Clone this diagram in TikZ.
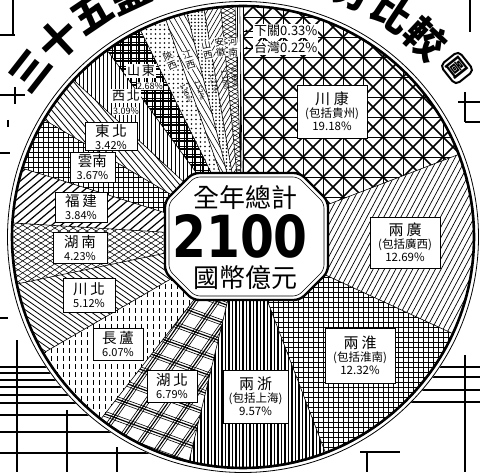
\documentclass[tikz,border=0pt]{standalone}
\usepackage{fontspec}
\newfontfamily\cjk{Noto Sans CJK TC}
\newfontfamily\dvs{DejaVu Sans}
\newcommand\HL[5][]{%
 \begin{scope}[rotate=#2]
 \pgfmathtruncatemacro\hlN{260/#3+1}%
 \pgfmathtruncatemacro\hlM{-260/#3-1}%
 \foreach \k in {\hlM,...,\hlN}{\draw[line width=#4pt,#1] (-260,{\k*#3+#5}) -- (260,{\k*#3+#5});}
 \end{scope}}
\newcommand\DT[6]{%
 \pgfmathtruncatemacro\dtX{(#4-#3)/#1}%
 \pgfmathtruncatemacro\dtY{(#6-#5)/#1}%
 \foreach \i in {0,...,\dtX}{\foreach \j in {0,...,\dtY}{\fill ({#3+\i*#1},{#5+\j*#1}) circle[radius=#2pt];}}}
\newcommand\SL[3]{\begin{scope}\clip (0,0) -- (#1:232pt) arc[start angle=#1,end angle=#2,radius=232pt] -- cycle; #3 \end{scope}}
\newcommand\TL[3]{{\fontsize{15}{17}\selectfont #1}\\{\fontsize{11.5}{14}\selectfont #2}\\{\fontsize{11.5}{13}\selectfont #3}}
\newcommand\DL[2]{{\fontsize{14.5}{16}\selectfont #1}\\{\fontsize{11}{12}\selectfont #2}}
\tikzset{
 lbox/.style={draw, line width=0.9pt, fill=white, align=center, inner sep=1.5pt, font=\cjk\fontsize{11}{13}\selectfont},
 vlab/.style={inner sep=0.3pt, fill=white, align=center, font=\cjk\fontsize{9.5}{10.5}\selectfont},
 vnum/.style={inner sep=0pt, font=\cjk\fontsize{6.8}{7}\selectfont},
 ttl/.style={inner sep=0pt, font=\cjk\bfseries\fontsize{40}{40}\selectfont},
 bg/.style={line width=1.3pt},
}
\begin{document}
\begin{tikzpicture}[x=1pt,y=1pt]
\clip (0,0) rectangle (480,472);
\useasboundingbox (0,0) rectangle (480,472);
\fill[white] (0,0) rectangle (480,472);
% background fragments
\begin{scope}[bg]
 \draw (13,472) -- (13,437); \draw (0,437) -- (15,437);
 \draw (0,377) -- (25,377); \draw (15,385) -- (15,368);
 \draw (8,352) -- (8,345); \draw (0,319) -- (10,319);
 \draw (0,154) -- (8,154);
 \draw (17,132) -- (17,0); \draw (67,62) -- (67,0); \draw (117,25) -- (117,0);
 \foreach \yy in {105,99,92,85,77,69,57,40,19}{\draw (0,\yy) -- (160,\yy);}
 \draw (470,472) -- (470,440);
 \draw (458,370) -- (480,370); \draw (465,380) -- (465,350); \draw (465,350) -- (480,350);
 \draw (465,117) -- (465,0);
 \foreach \yy in {105,95,82,70}{\draw (400,\yy) -- (480,\yy);}
 \draw (367,19) -- (367,0); \draw (360,20) -- (400,20);
\end{scope}
\fill[white] (243,235) circle[radius=236pt];
\begin{scope}[shift={(243,235)}]
 % 川康
 \SL{90}{20.952}{\HL{45}{14.14}{1.5}{0}\HL{-45}{14.14}{1.5}{0}\HL{0}{20}{0.5}{0}\HL{90}{20}{0.5}{0}}
 % 兩廣
 \SL{20.952}{-24.732}{\HL{62}{5}{0.7}{0}}
 % 兩淮
 \SL{-24.732}{-69.084}{\HL{0}{5}{0.6}{0}\HL{90}{5}{0.55}{0}}
 % 兩浙
 \SL{-69.084}{-103.536}{\HL{90}{7}{1.5}{0}\HL{90}{7}{0.5}{3.5}}
 % 湖北
 \SL{-103.536}{-127.98}{\HL{55}{18}{0.6}{0}\HL{55}{18}{1.2}{2.5}\HL{55}{18}{0.6}{5}\HL{-20}{18}{0.6}{0}\HL{-20}{18}{1.2}{2.5}\HL{-20}{18}{0.6}{5}}
 % 長蘆
 \SL{-127.98}{-149.832}{\HL[dash pattern=on 5pt off 3pt]{90}{6}{1}{0}}
 % 川北
 \SL{-149.832}{-168.264}{\HL{-35}{4.5}{0.8}{0}}
 % 湖南
 \SL{-168.264}{-183.492}{\HL{33}{5}{0.55}{0}\HL{-33}{5}{0.55}{0}}
 % 福建
 \SL{-183.492}{-197.316}{\HL{40}{6}{1.2}{0}}
 % 雲南
 \SL{-197.316}{-210.528}{\HL{0}{5}{0.55}{0}\HL{90}{5}{0.55}{0}}
 % 東北
 \SL{-210.528}{-222.84}{\HL{-50}{5}{0.8}{0}}
 % 西北
 \SL{-222.84}{-233.964}{\HL{90}{4}{0.9}{0}}
 % 山東
 \SL{-233.964}{-243.612}{\HL{0}{8}{1.1}{0}\HL{90}{8}{1.1}{0}\HL{0}{8}{0.5}{2.5}\HL{90}{8}{0.5}{2.5}}
 % 陝西
 \SL{-243.612}{-250.452}{\DT{4.5}{0.85}{-110}{0}{50}{235}}
 % 江西
 \SL{-250.452}{-255.924}{\HL{-60}{5}{0.6}{0}}
 % 山西
 \SL{-255.924}{-260.28}{\DT{3.5}{0.8}{-62}{0}{50}{235}}
 % 安徽
 \SL{-260.28}{-264.456}{\HL{60}{4}{0.6}{0}}
 % 河南
 \SL{-264.456}{-268.02}{\HL{30}{4}{0.5}{0}\HL{-30}{4}{0.5}{0}}
 % 下關
 \SL{-268.02}{-269.208}{\HL{90}{3}{0.5}{0}}
 \foreach \a in {90,20.952,-24.732,-69.084,-103.536,-127.98,-149.832,-168.264,-183.492,-197.316,-210.528,-222.84,-233.964,-243.612,-250.452,-255.924,-260.28,-264.456,-268.02,-269.208}{\draw[line width=0.6pt] (0,0) -- (\a:232pt);}
 \draw[line width=2.6pt] (0,0) circle[radius=231pt];
 \draw[line width=0.8pt] (0,0) circle[radius=235.5pt];
\end{scope}
% centre octagon
\draw[line width=2.4pt, fill=white, rounded corners=6pt] (193,299) -- (300,299) -- (328,271) -- (328,200) -- (300,172) -- (193,172) -- (165,200) -- (165,271) -- cycle;
\draw[line width=0.6pt, rounded corners=5pt] (195,295) -- (298,295) -- (324,269) -- (324,202) -- (298,176) -- (195,176) -- (169,202) -- (169,269) -- cycle;
\node[inner sep=0pt, font=\cjk\fontsize{26}{26}\selectfont] (tot) at (245,274) {全年總計};
\node[inner sep=0pt, font=\dvs\bfseries\fontsize{58}{58}\selectfont] (num) at (240,236) {\scalebox{0.84}[1]{2100}};
\node[inner sep=0pt, font=\cjk\fontsize{26}{26}\selectfont] (unit) at (245,194) {國幣億元};
% boxed labels
\node[lbox, minimum width=70pt, minimum height=53pt] (chk) at (332,360.5) {\TL{川\hspace{4pt}康}{(包括貴州)}{19.18\%}};
\node[lbox, minimum width=70pt, minimum height=51pt] (lg) at (405,229.5) {\TL{兩\hspace{3pt}廣}{(包括廣西)}{12.69\%}};
\node[lbox, minimum width=70pt, minimum height=55pt] (lh) at (360,116.5) {\TL{兩\hspace{3pt}淮}{(包括淮南)}{12.32\%}};
\node[lbox, minimum width=65pt, minimum height=53pt] (lz) at (255.5,75.5) {\TL{兩\hspace{3pt}浙}{(包括上海)}{9.57\%}};
\node[lbox, minimum width=50pt, minimum height=32pt] (hb) at (172,86) {\DL{湖\hspace{3pt}北}{6.79\%}};
\node[lbox, minimum width=50pt, minimum height=32pt] (cl) at (118,128) {\DL{長\hspace{3pt}蘆}{6.07\%}};
\node[lbox, minimum width=52pt, minimum height=34pt] (cb) at (89,177) {\DL{川\hspace{3pt}北}{5.12\%}};
\node[lbox, minimum width=54pt, minimum height=31pt] (hn) at (80,224.5) {\DL{湖\hspace{3pt}南}{4.23\%}};
\node[lbox, minimum width=52pt, minimum height=30pt] (fj) at (81,265) {\DL{福\hspace{3pt}建}{3.84\%}};
\node[lbox, minimum width=45pt, minimum height=30pt] (yn) at (92.5,305) {\DL{雲南}{3.67\%}};
\node[lbox, minimum width=52pt, minimum height=27pt] (db) at (111,335.5) {\DL{東\hspace{3pt}北}{3.42\%}};
\node[inner sep=1pt, fill=white, font=\cjk\fontsize{13}{13}\selectfont] (xb) at (126,376) {西\hspace{2pt}北};
\node[inner sep=0.5pt, fill=white, font=\cjk\fontsize{9}{9}\selectfont] (xbn) at (126,361) {3.09\%};
\node[inner sep=1pt, fill=white, font=\cjk\fontsize{13}{13}\selectfont] (sd) at (141,401) {山\hspace{2pt}東};
\node[inner sep=0.5pt, fill=white, font=\cjk\fontsize{9}{9}\selectfont] (sdn) at (150,386) {2.68\%};
% thin slice labels
\node[vlab, rotate=23] (sx) at (170,411) {陝\\西};
\node[vnum, rotate=-67] (sxn) at (186,379) {1.90\%};
\node[vlab, rotate=17] (jx) at (189,412) {江\\西};
\node[vnum, rotate=-73] (jxn) at (200,382) {1.52\%};
\node[vlab, rotate=12] (shx) at (207,422) {山\\西};
\node[vnum, rotate=-78] (shxn) at (214,388) {1.21\%};
\node[vlab, rotate=8] (ah) at (220,425) {安\\徽};
\node[vnum, rotate=-82] (ahn) at (225,392) {1.16\%};
\node[vlab, rotate=4] (hen) at (233,425) {河\\南};
\node[vnum, rotate=-86] (henn) at (234.5,394) {0.99\%};
% small slices with pointers
\node[inner sep=1pt, fill=white, anchor=west, font=\cjk\fontsize{13}{13}\selectfont] (xg) at (253,441) {下關0.33\%};
\node[inner sep=1pt, fill=white, anchor=west, font=\cjk\fontsize{13}{13}\selectfont] (tw) at (253,424) {台灣0.22\%};
\coordinate (pxg) at (243.5,441);
\coordinate (ptw) at (243,424);
\draw[line width=0.8pt] (pxg) -- (xg.west);
\draw[line width=0.8pt] (ptw) -- (tw.west);
\fill (246.5,441) circle[radius=1.3pt];
\fill (246.5,424) circle[radius=1.3pt];
% title
\node[ttl, rotate=52] (t1) at (30.2,401.2) {三};
\node[ttl, rotate=43] (t2) at (58.9,432.5) {十};
\node[ttl, rotate=34] (t3) at (92.0,458.8) {五};
\node[ttl, rotate=25] (t4) at (128.9,479.7) {鹽};
\node[ttl, rotate=-24.3] (t5) at (354.1,481.1) {分};
\node[ttl, rotate=-33.6] (t6) at (392.4,459.9) {比};
\node[ttl, rotate=-43] (t7) at (426,433.5) {較};
\node[draw, line width=2pt, rounded corners=5pt, inner sep=3pt, rotate=-51.5, font=\cjk\bfseries\fontsize{19}{19}\selectfont] (t8) at (457,404) {圖};
\end{tikzpicture}
\end{document}
